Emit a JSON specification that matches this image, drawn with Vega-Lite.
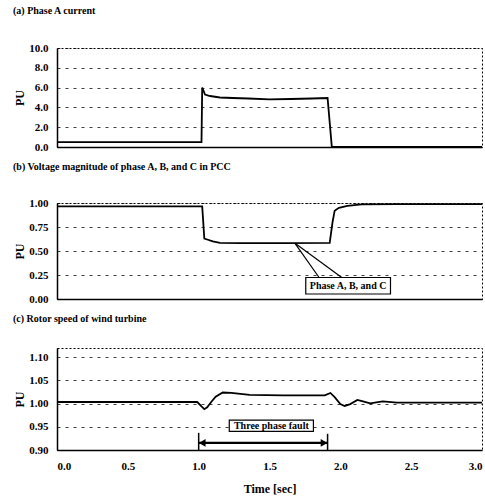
{
  "$schema": "https://vega.github.io/schema/vega-lite/v6.json",
  "padding": {"left": 12, "top": 5, "right": 5, "bottom": 2},
  "spacing": 8,
  "datasets": {
    "current": [
      {"t": 0.0, "v": 0.5}, {"t": 1.02, "v": 0.5}, {"t": 1.025, "v": 6.0}, {"t": 1.045, "v": 5.3},
      {"t": 1.08, "v": 5.15}, {"t": 1.15, "v": 5.0}, {"t": 1.24, "v": 4.95}, {"t": 1.35, "v": 4.9},
      {"t": 1.5, "v": 4.82}, {"t": 1.65, "v": 4.85}, {"t": 1.8, "v": 4.9}, {"t": 1.91, "v": 4.95},
      {"t": 1.94, "v": 0.0}, {"t": 3.0, "v": 0.0}
    ],
    "voltage": [
      {"t": 0.0, "v": 0.965}, {"t": 1.025, "v": 0.965}, {"t": 1.04, "v": 0.63}, {"t": 1.06, "v": 0.62},
      {"t": 1.1, "v": 0.6}, {"t": 1.15, "v": 0.585}, {"t": 1.3, "v": 0.583}, {"t": 1.6, "v": 0.583},
      {"t": 1.925, "v": 0.585}, {"t": 1.945, "v": 0.8}, {"t": 1.96, "v": 0.92}, {"t": 1.99, "v": 0.95},
      {"t": 2.05, "v": 0.97}, {"t": 2.15, "v": 0.985}, {"t": 2.4, "v": 0.988}, {"t": 3.0, "v": 0.988}
    ],
    "rotor": [
      {"t": 0.0, "v": 1.0035}, {"t": 0.99, "v": 1.0035}, {"t": 1.02, "v": 0.994}, {"t": 1.04, "v": 0.988},
      {"t": 1.06, "v": 0.992}, {"t": 1.09, "v": 1.004}, {"t": 1.12, "v": 1.015}, {"t": 1.17, "v": 1.024},
      {"t": 1.23, "v": 1.023}, {"t": 1.36, "v": 1.019}, {"t": 1.6, "v": 1.018}, {"t": 1.89, "v": 1.018},
      {"t": 1.93, "v": 1.023}, {"t": 1.96, "v": 1.014}, {"t": 2.0, "v": 0.999}, {"t": 2.03, "v": 0.995},
      {"t": 2.07, "v": 0.999}, {"t": 2.12, "v": 1.008}, {"t": 2.16, "v": 1.005}, {"t": 2.21, "v": 1.0006},
      {"t": 2.3, "v": 1.005}, {"t": 2.4, "v": 1.002}, {"t": 3.0, "v": 1.002}
    ],
    "leaders": [
      {"t": 1.68, "v": 0.58, "t2": 1.85, "v2": 0.224},
      {"t": 1.68, "v": 0.58, "t2": 2.01, "v2": 0.224}
    ],
    "labelB": [{"t": 1.756, "t2": 2.354, "v": 0.224, "v2": 0.052, "tc": 2.055, "vc": 0.138, "label": "Phase A, B, and C"}],
    "labelC": [{"t": 1.216, "t2": 1.81, "v": 0.9646, "v2": 0.94, "tc": 1.513, "vc": 0.9523, "label": "Three phase fault"}],
    "faultArrow": [{"t": 1.0, "t2": 1.91, "v": 0.9153}],
    "faultTicks": [{"t": 1.0, "v": 0.9, "v2": 0.937}, {"t": 1.91, "v": 0.9, "v2": 0.935}],
    "arrowHeads": [{"t": 1.025, "v": 0.9153, "dir": "left"}, {"t": 1.885, "v": 0.9153, "dir": "right"}]
  },
  "vconcat": [
    {
      "width": 425,
      "height": 99,
      "title": {"text": "(a) Phase A current", "offset": 26},
      "data": {"name": "current"},
      "mark": {"type": "line", "color": "#000", "strokeWidth": 1.8},
      "encoding": {
        "x": {"field": "t", "type": "quantitative", "scale": {"domain": [0, 3]},
              "axis": {"labels": false, "title": null, "values": [0, 0.5, 1, 1.5, 2, 2.5, 3]}},
        "y": {"field": "v", "type": "quantitative", "scale": {"domain": [0, 10]},
              "axis": {"values": [0, 2, 4, 6, 8, 10], "format": ".1f", "title": "PU"}}
      }
    },
    {
      "width": 425,
      "height": 96,
      "title": {"text": "(b) Voltage magnitude of phase A, B, and C  in PCC", "offset": 25},
      "layer": [
        {
          "data": {"name": "voltage"},
          "mark": {"type": "line", "color": "#000", "strokeWidth": 1.8},
          "encoding": {
            "x": {"field": "t", "type": "quantitative", "scale": {"domain": [0, 3]},
                  "axis": {"labels": false, "title": null, "values": [0, 0.5, 1, 1.5, 2, 2.5, 3]}},
            "y": {"field": "v", "type": "quantitative", "scale": {"domain": [0, 1]},
                  "axis": {"values": [0, 0.25, 0.5, 0.75, 1], "format": ".2f", "title": "PU"}}
          }
        },
        {
          "data": {"name": "leaders"},
          "mark": {"type": "rule", "color": "#000", "strokeWidth": 1.2},
          "encoding": {
            "x": {"field": "t", "type": "quantitative",
                  "axis": {"labels": false, "title": null, "values": [0, 0.5, 1, 1.5, 2, 2.5, 3]}},
            "x2": {"field": "t2"},
            "y": {"field": "v", "type": "quantitative",
                  "axis": {"values": [0, 0.25, 0.5, 0.75, 1], "format": ".2f", "title": "PU"}},
            "y2": {"field": "v2"}
          }
        },
        {
          "data": {"name": "labelB"},
          "mark": {"type": "rect", "fill": "#fff", "stroke": "#000", "strokeWidth": 1.2},
          "encoding": {
            "x": {"field": "t", "type": "quantitative",
                  "axis": {"labels": false, "title": null, "values": [0, 0.5, 1, 1.5, 2, 2.5, 3]}},
            "x2": {"field": "t2"},
            "y": {"field": "v", "type": "quantitative",
                  "axis": {"values": [0, 0.25, 0.5, 0.75, 1], "format": ".2f", "title": "PU"}},
            "y2": {"field": "v2"}
          }
        },
        {
          "data": {"name": "labelB"},
          "mark": {"type": "text", "fontSize": 10, "fontWeight": "bold", "color": "#000", "font": "Liberation Serif"},
          "encoding": {
            "x": {"field": "tc", "type": "quantitative",
                  "axis": {"labels": false, "title": null, "values": [0, 0.5, 1, 1.5, 2, 2.5, 3]}},
            "y": {"field": "vc", "type": "quantitative",
                  "axis": {"values": [0, 0.25, 0.5, 0.75, 1], "format": ".2f", "title": "PU"}},
            "text": {"field": "label"}
          }
        }
      ]
    },
    {
      "width": 425,
      "height": 102,
      "title": {"text": "(c) Rotor speed of wind turbine", "offset": 24},
      "layer": [
        {
          "data": {"name": "rotor"},
          "mark": {"type": "line", "color": "#000", "strokeWidth": 1.8},
          "encoding": {
            "x": {"field": "t", "type": "quantitative", "scale": {"domain": [0, 3]},
                  "axis": {"values": [0, 0.5, 1, 1.5, 2, 2.5, 3], "format": ".1f", "title": "Time [sec]", "labelPadding": 10, "titlePadding": 12}},
            "y": {"field": "v", "type": "quantitative", "scale": {"domain": [0.9, 1.1], "zero": false},
                  "axis": {"values": [0.9, 0.95, 1.0, 1.05, 1.1], "format": ".2f", "title": "PU"}}
          }
        },
        {
          "data": {"name": "faultTicks"},
          "mark": {"type": "rule", "color": "#000", "strokeWidth": 1.5},
          "encoding": {
            "x": {"field": "t", "type": "quantitative",
                  "axis": {"values": [0, 0.5, 1, 1.5, 2, 2.5, 3], "format": ".1f", "title": "Time [sec]", "labelPadding": 10, "titlePadding": 12}},
            "y": {"field": "v", "type": "quantitative",
                  "axis": {"values": [0.9, 0.95, 1.0, 1.05, 1.1], "format": ".2f", "title": "PU"}},
            "y2": {"field": "v2"}
          }
        },
        {
          "data": {"name": "faultArrow"},
          "mark": {"type": "rule", "color": "#000", "strokeWidth": 2.2},
          "encoding": {
            "x": {"field": "t", "type": "quantitative",
                  "axis": {"values": [0, 0.5, 1, 1.5, 2, 2.5, 3], "format": ".1f", "title": "Time [sec]", "labelPadding": 10, "titlePadding": 12}},
            "x2": {"field": "t2"},
            "y": {"field": "v", "type": "quantitative",
                  "axis": {"values": [0.9, 0.95, 1.0, 1.05, 1.1], "format": ".2f", "title": "PU"}}
          }
        },
        {
          "data": {"name": "arrowHeads"},
          "mark": {"type": "point", "filled": true, "color": "#000", "opacity": 1, "size": 60},
          "encoding": {
            "x": {"field": "t", "type": "quantitative",
                  "axis": {"values": [0, 0.5, 1, 1.5, 2, 2.5, 3], "format": ".1f", "title": "Time [sec]", "labelPadding": 10, "titlePadding": 12}},
            "y": {"field": "v", "type": "quantitative",
                  "axis": {"values": [0.9, 0.95, 1.0, 1.05, 1.1], "format": ".2f", "title": "PU"}},
            "shape": {"field": "dir", "type": "nominal",
                      "scale": {"domain": ["left", "right"], "range": ["triangle-left", "triangle-right"]},
                      "legend": null}
          }
        },
        {
          "data": {"name": "labelC"},
          "mark": {"type": "rect", "fill": "#fff", "stroke": "#000", "strokeWidth": 1.2},
          "encoding": {
            "x": {"field": "t", "type": "quantitative",
                  "axis": {"values": [0, 0.5, 1, 1.5, 2, 2.5, 3], "format": ".1f", "title": "Time [sec]", "labelPadding": 10, "titlePadding": 12}},
            "x2": {"field": "t2"},
            "y": {"field": "v", "type": "quantitative",
                  "axis": {"values": [0.9, 0.95, 1.0, 1.05, 1.1], "format": ".2f", "title": "PU"}},
            "y2": {"field": "v2"}
          }
        },
        {
          "data": {"name": "labelC"},
          "mark": {"type": "text", "fontSize": 10, "fontWeight": "bold", "color": "#000", "font": "Liberation Serif"},
          "encoding": {
            "x": {"field": "tc", "type": "quantitative",
                  "axis": {"values": [0, 0.5, 1, 1.5, 2, 2.5, 3], "format": ".1f", "title": "Time [sec]", "labelPadding": 10, "titlePadding": 12}},
            "y": {"field": "vc", "type": "quantitative",
                  "axis": {"values": [0.9, 0.95, 1.0, 1.05, 1.1], "format": ".2f", "title": "PU"}},
            "text": {"field": "label"}
          }
        }
      ]
    }
  ],
  "config": {
    "font": "Liberation Serif",
    "view": {"stroke": "#000", "strokeDash": [2, 2], "strokeWidth": 1},
    "axis": {
      "labelFont": "Liberation Serif", "labelFontWeight": "bold", "labelFontSize": 11, "labelColor": "#000",
      "titleFont": "Liberation Serif", "titleFontWeight": "bold", "titleFontSize": 12, "titleColor": "#000",
      "domainColor": "#000", "domainWidth": 1.5, "ticks": false, "labelOverlap": false,
      "gridColor": "#000", "gridDash": [3, 5], "gridOpacity": 0.75, "gridWidth": 1
    },
    "axisX": {"grid": false},
    "axisY": {"labelPadding": 9, "minExtent": 28, "maxExtent": 28, "titlePadding": 3},
    "title": {"font": "Liberation Serif", "fontSize": 10, "fontWeight": "bold", "anchor": "start", "color": "#000"}
  }
}
